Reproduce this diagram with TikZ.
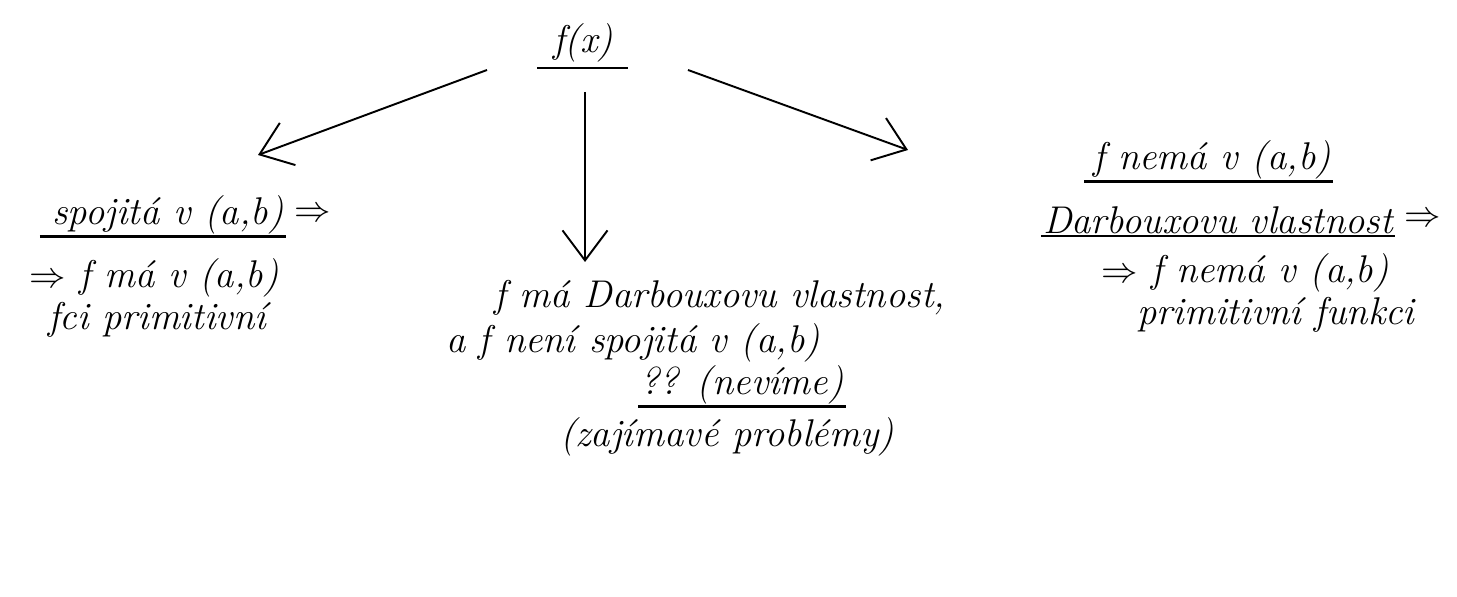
\documentclass[tikz,border=0pt]{standalone}
\usepackage{fontspec}
\usetikzlibrary{arrows.meta,positioning}

\begin{document}
\begin{tikzpicture}[x=0.02cm, y=-0.02cm,
    node distance=4pt,
    txt/.style={font=\fontsize{22}{26}\selectfont\itshape, inner sep=1pt},
    arrow/.style={-{Straight Barb[length=6mm,width=9mm]}, line width=1.1pt},
    ul/.style={line width=1.3pt}
]
    \fill[white] (0,0) rectangle (1457,597);

    % top
    \node[txt] (fx) at (583,43) {f(x)};
    \draw[ul] (537,68) -- (628,68);

    % left branch
    \node[txt] (l1) at (168,215) {spojitá v (a,b)};
    \node[txt, right=of l1] (l1r) {$\Rightarrow$};
    \node[txt] (l2) at (154,278) {$\Rightarrow$ f má v (a,b)};
    \node[txt] (l3) at (157,320) {fci primitivní};
    \draw[ul] ([xshift=-6pt]l1.south west) -- (l1.south east);

    % middle branch
    \node[txt] (m1) at (720,298) {f má Darbouxovu vlastnost,};
    \node[txt] (m2) at (633,343) {a f není spojitá v (a,b)};
    \node[txt] (m3) at (742,385) {?? (nevíme)};
    \node[txt] (m4) at (727,437) {(zajímavé problémy)};
    \draw[ul] (m3.south west) -- (m3.south east);

    % right branch
    \node[txt] (r1) at (1212,160) {f nemá v (a,b)};
    \node[txt] (r2) at (1218,220) {Darbouxovu vlastnost};
    \node[txt, right=of r2] (r2r) {$\Rightarrow$};
    \node[txt] (r3) at (1245,273) {$\Rightarrow$ f nemá v (a,b)};
    \node[txt] (r4) at (1276,315) {primitivní funkci};
    \draw[ul] ([xshift=-4pt]r1.south west) -- (r1.south east);
    \draw[ul] (r2.south west) -- (r2.south east);

    % arrows
    \coordinate (a1) at (487,70);
    \coordinate (a2) at (585,92);
    \coordinate (a3) at (688,70);
    \coordinate (b1) at (258,155);
    \coordinate (b2) at (585,262);
    \coordinate (b3) at (908,150);
    \draw[arrow] (a1) -- (b1);
    \draw[arrow] (a2) -- (b2);
    \draw[arrow] (a3) -- (b3);
\end{tikzpicture}
\end{document}
